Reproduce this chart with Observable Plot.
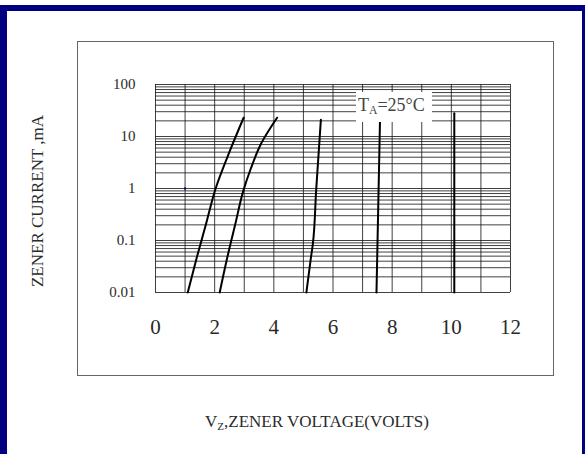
<!DOCTYPE html>
<html>
<head>
<meta charset="utf-8">
<script src="https://cdn.jsdelivr.net/npm/d3@7"></script>
<script src="https://cdn.jsdelivr.net/npm/@observablehq/plot@0.6"></script>
<style>
  html, body { margin: 0; padding: 0; background: white; }
  #wrap { position: relative; width: 585px; height: 454px; overflow: hidden; font-family: "Liberation Serif", "Times New Roman", serif; color: #2a2a2a; }
  #wrap svg { position: absolute; left: 0; top: 0; }
  .ov { position: absolute; box-sizing: border-box; }
  #frame { left: 0; top: 5px; width: 585px; height: 449px; border-top: 6px solid #000080; border-left: 7px solid #000080; border-right: 3px solid #000080; }
  #box { left: 77px; top: 41px; width: 477px; height: 335px; border: 1.5px solid #666; }
  #ytitle { left: 38px; top: 201px; font-size: 17px; white-space: nowrap; transform: translate(-50%, -50%) rotate(-90deg); }
  #xtitle { left: 205px; top: 413px; font-size: 17px; line-height: 17px; white-space: nowrap; }
  #ta { left: 356px; top: 92px; width: 76px; height: 30px; background: white; font-size: 18px; line-height: 18px; padding: 4px 0 0 2px; white-space: nowrap; color: #444; }
  sub { font-size: 65%; vertical-align: -0.25em; line-height: 0; }
</style>
</head>
<body>
<div id="wrap"></div>
<script>
// Tick / grid values
const voltTicks = [0, 2, 4, 6, 8, 10, 12];
const voltGrid = [0, 1, 2, 3, 4, 5, 6, 7, 8, 9, 10, 11, 12];
const currentTicks = [0.01, 0.1, 1, 10, 100];
const currentGrid = [
  0.01, 0.02, 0.03, 0.04, 0.05, 0.06, 0.07, 0.08, 0.09,
  0.1, 0.2, 0.3, 0.4, 0.5, 0.6, 0.7, 0.8, 0.9,
  1, 2, 3, 4, 5, 6, 7, 8, 9,
  10, 20, 30, 40, 50, 60, 70, 80, 90,
  100
];

// Series (Vz in volts, Iz in mA)
const curve1V = [1.09, 1.40, 1.71, 2.03, 2.52, 2.98];
const curve1I = [0.01, 0.048, 0.21, 0.99, 5.4, 23];
const curve2V = [2.17, 2.43, 2.70, 2.97, 3.22, 3.58, 4.11];
const curve2I = [0.01, 0.048, 0.21, 0.91, 2.4, 7.5, 23];
const curve3V = [5.10, 5.24, 5.32, 5.43, 5.59];
const curve3I = [0.01, 0.041, 0.087, 0.91, 21];
const curve4V = [7.47, 7.59];
const curve4I = [0.01, 22];
const curve5V = [10.1, 10.1];
const curve5I = [0.01, 28];
const markerV = [1];
const markerI = [1];

const seriesList = [
  ["c1", curve1V, curve1I],
  ["c2", curve2V, curve2I],
  ["c3", curve3V, curve3I],
  ["c4", curve4V, curve4I],
  ["c5", curve5V, curve5I]
];
const rows = seriesList.flatMap(([id, vs, is]) => vs.map((v, i) => ({id, v, i: is[i]})));
const markerRows = markerV.map((v, k) => ({v, i: markerI[k]}));

const chart = Plot.plot({
  width: 585,
  height: 454,
  marginLeft: 155,
  marginRight: 75,
  marginTop: 84,
  marginBottom: 162,
  style: {fontFamily: "'Liberation Serif', 'Times New Roman', serif", color: "#2a2a2a", background: "transparent"},
  x: {domain: [0, 12], axis: null},
  y: {type: "log", domain: [0.01, 100], axis: null},
  marks: [
    Plot.ruleY(currentGrid, {stroke: "#111", strokeWidth: 1, strokeOpacity: 0.8}),
    Plot.ruleX(voltGrid, {stroke: "#111", strokeWidth: 1, strokeOpacity: 0.8}),
    Plot.line(rows, {x: "v", y: "i", z: "id", stroke: "#000", strokeWidth: 2, curve: "monotone-y"}),
    Plot.dot(markerRows, {x: "v", y: "i", r: 1.2, fill: "#000080", stroke: null}),
    Plot.axisX({ticks: voltTicks, tickSize: 0, tickPadding: 27, fontSize: 21, label: null, tickFormat: d => String(d)}),
    Plot.axisY({ticks: currentTicks, tickSize: 0, tickPadding: 20, fontSize: 15, label: null, tickFormat: d => String(d)})
  ]
});

const wrap = document.getElementById("wrap");
wrap.appendChild(chart);
wrap.insertAdjacentHTML("beforeend", `
  <div class="ov" id="box"></div>
  <div class="ov" id="frame"></div>
  <div class="ov" id="ta">T<sub>A</sub>=25°C</div>
  <div class="ov" id="ytitle">ZENER CURRENT ,mA</div>
  <div class="ov" id="xtitle">V<sub>Z</sub>,ZENER VOLTAGE(VOLTS)</div>
`);
</script>
</body>
</html>
